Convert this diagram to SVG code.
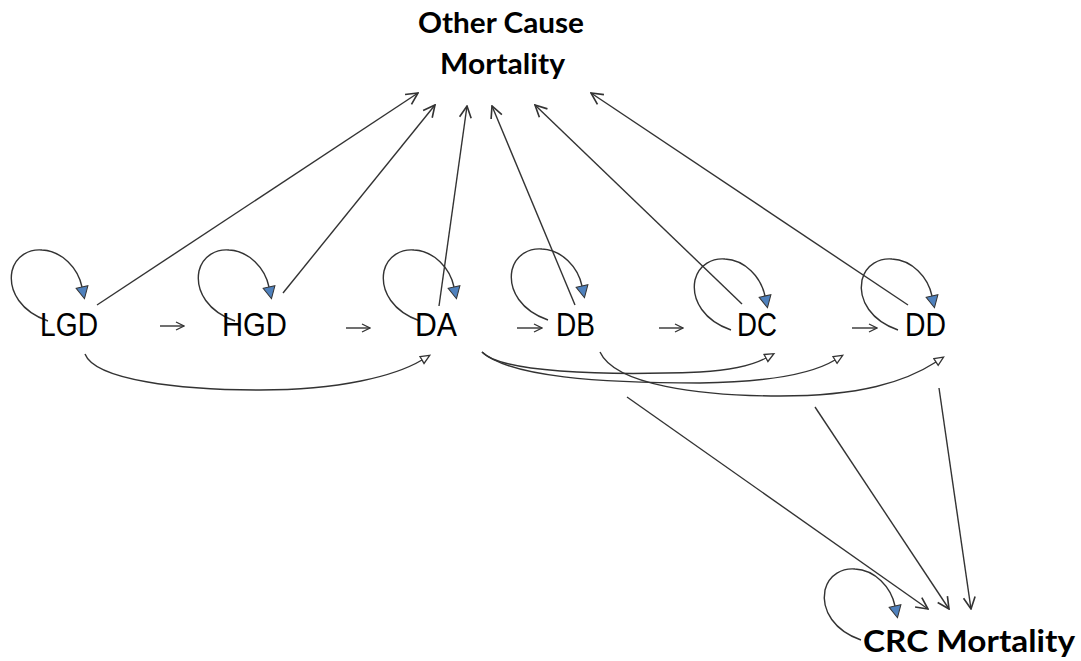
<svg xmlns="http://www.w3.org/2000/svg" width="1081" height="661" viewBox="0 0 1081 661">
<style>
.c{fill:none;stroke:#333;stroke-width:1.4}
.lbl{font-family:"Liberation Sans",Arial,sans-serif;font-size:33px;fill:#000}
.ttl{font-family:Lato,"Liberation Sans",sans-serif;font-weight:bold;fill:#000}
</style>
<defs>
<marker id="open" markerUnits="userSpaceOnUse" markerWidth="14" markerHeight="14" viewBox="0 0 12 12" refX="11" refY="6" orient="auto">
<path d="M1,1 L11,6 L1,11" fill="none" stroke="#333" stroke-width="1.4"/>
</marker>
<marker id="small" markerUnits="userSpaceOnUse" markerWidth="10" markerHeight="10" viewBox="0 0 10 10" refX="9" refY="5" orient="auto">
<path d="M1,1 L9,5 L1,9" fill="none" stroke="#333" stroke-width="1.3"/>
</marker>
<marker id="tri" markerUnits="userSpaceOnUse" markerWidth="12" markerHeight="12" viewBox="0 0 12 12" refX="1" refY="6" orient="auto">
<path d="M1,2 L10,6 L1,10 Z" fill="#fff" stroke="#333" stroke-width="1.3"/>
</marker>
<marker id="blue" markerUnits="userSpaceOnUse" markerWidth="16" markerHeight="16" viewBox="0 0 16 16" refX="1" refY="8" orient="auto">
<path d="M1,2 L13,8 L1,14 Z" fill="#4F81BD" stroke="#333" stroke-width="1"/>
</marker>
<path id="loop" class="c" marker-end="url(#blue)" d="M 48 321 C 22 312, 8 292, 12 271 C 16 255, 30 249, 42 250 C 62 251, 78 268, 82 287"/>
</defs>

<g id="connectors">
<!-- self loops -->
<use href="#loop"/>
<use href="#loop" transform="translate(187,0)"/>
<use href="#loop" transform="translate(372,0)"/>
<use href="#loop" transform="translate(500,-1)"/>
<use href="#loop" transform="translate(683,9)"/>
<use href="#loop" transform="translate(850,9)"/>
<use href="#loop" transform="translate(813,319)"/>
<!-- progression arrows -->
<line class="c" marker-end="url(#small)" x1="160" y1="326" x2="184" y2="326"/>
<line class="c" marker-end="url(#small)" x1="346" y1="328" x2="370" y2="328"/>
<line class="c" marker-end="url(#small)" x1="517" y1="328" x2="542" y2="328"/>
<line class="c" marker-end="url(#small)" x1="659" y1="328" x2="683" y2="328"/>
<line class="c" marker-end="url(#small)" x1="852" y1="328" x2="877" y2="328"/>
<!-- to Other Cause Mortality -->
<line class="c" marker-end="url(#open)" x1="97" y1="305" x2="418" y2="93"/>
<line class="c" marker-end="url(#open)" x1="283" y1="293" x2="435" y2="105"/>
<line class="c" marker-end="url(#open)" x1="439" y1="306" x2="467" y2="106"/>
<line class="c" marker-end="url(#open)" x1="575" y1="305" x2="492" y2="106"/>
<line class="c" marker-end="url(#open)" x1="742" y1="304" x2="535" y2="105"/>
<line class="c" marker-end="url(#open)" x1="908" y1="305" x2="591" y2="93"/>
<!-- skip arcs -->
<path class="c" marker-end="url(#tri)" d="M 85 354 C 95 380, 180 390, 260 390 C 340 390, 395 376, 422 360"/>
<path class="c" marker-end="url(#tri)" d="M 482 352 C 500 372, 600 376, 700 372 C 735 370, 755 364, 766 358"/>
<path class="c" marker-end="url(#tri)" d="M 482 352 C 510 377, 600 383, 700 383 C 775 382, 815 372, 835 360"/>
<path class="c" marker-end="url(#tri)" d="M 600 352 C 615 385, 700 396, 780 396 C 860 396, 905 382, 936 362"/>
<!-- to CRC Mortality -->
<line class="c" marker-end="url(#open)" x1="627" y1="397" x2="928" y2="609"/>
<line class="c" marker-end="url(#open)" x1="815" y1="407" x2="949" y2="609"/>
<line class="c" marker-end="url(#open)" x1="939" y1="388" x2="971" y2="609"/>
</g>

<g id="node-ocm">
<text class="ttl" x="418" y="33" font-size="28" textLength="166" lengthAdjust="spacingAndGlyphs">Other Cause</text>
<text class="ttl" x="440" y="74" font-size="28" textLength="125" lengthAdjust="spacingAndGlyphs">Mortality</text>
</g>
<g id="node-lgd"><text class="lbl" x="40" y="336" textLength="58" lengthAdjust="spacingAndGlyphs">LGD</text></g>
<g id="node-hgd"><text class="lbl" x="222" y="336" textLength="65" lengthAdjust="spacingAndGlyphs">HGD</text></g>
<g id="node-da"><text class="lbl" x="415" y="336" textLength="42" lengthAdjust="spacingAndGlyphs">DA</text></g>
<g id="node-db"><text class="lbl" x="556" y="336" textLength="39" lengthAdjust="spacingAndGlyphs">DB</text></g>
<g id="node-dc"><text class="lbl" x="737" y="336" textLength="40" lengthAdjust="spacingAndGlyphs">DC</text></g>
<g id="node-dd"><text class="lbl" x="905" y="336" textLength="41" lengthAdjust="spacingAndGlyphs">DD</text></g>
<g id="node-crc">
<text class="ttl" x="863" y="652" font-size="30" textLength="212" lengthAdjust="spacingAndGlyphs">CRC Mortality</text>
</g>
</svg>
